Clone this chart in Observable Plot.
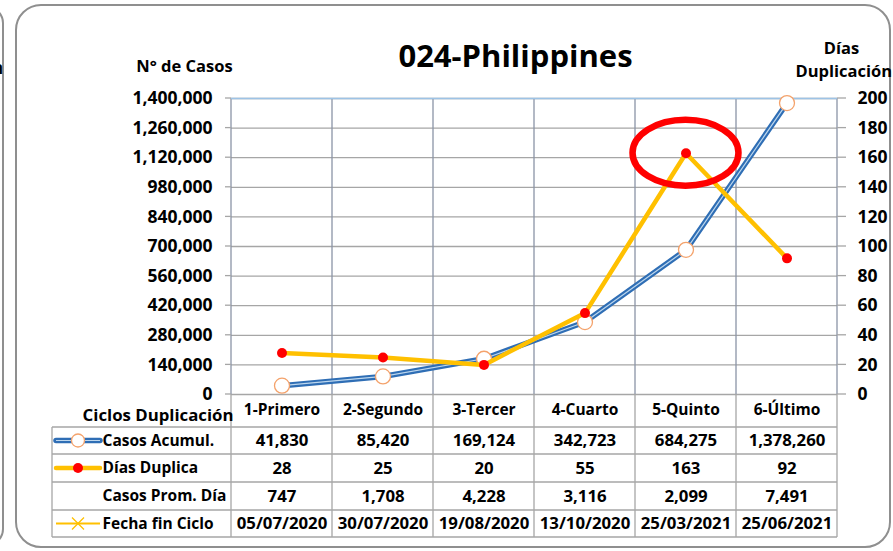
<!DOCTYPE html>
<html><head><meta charset="utf-8">
<script src="https://cdn.jsdelivr.net/npm/d3@7"></script>
<script src="https://cdn.jsdelivr.net/npm/@observablehq/plot@0.6"></script>
<style>
html,body{margin:0;padding:0;background:#fff;}
#wrap{position:relative;width:893px;height:551px;overflow:hidden;font-family:"Open Sans",sans-serif;}
#frame{position:absolute;left:15px;top:4px;width:876px;height:544px;border:2.5px solid #8f8f8f;border-radius:26px;box-sizing:border-box;}
#prev{position:absolute;left:-30px;top:6px;width:34px;height:540px;border:2.5px solid #8f8f8f;border-radius:22px;box-sizing:border-box;}
#prevtxt{position:absolute;left:-8px;top:56px;font-weight:bold;font-size:17px;}
#chart{position:absolute;left:0;top:0;}
</style></head>
<body><div id="wrap"><div id="prev"></div><div id="prevtxt">n</div><div id="frame"></div><div id="chart"></div></div>
<script>
const ciclos = ["1-Primero","2-Segundo","3-Tercer","4-Cuarto","5-Quinto","6-Último"];
const casosAcumul = [41830, 85420, 169124, 342723, 684275, 1378260];
const diasDuplica = [28, 25, 20, 55, 163, 92];
const casosPromDia = [747, 1708, 4228, 3116, 2099, 7491];
const fechaFinCiclo = ["05/07/2020","30/07/2020","19/08/2020","13/10/2020","25/03/2021","25/06/2021"];
const casosTicks = [0, 140000, 280000, 420000, 560000, 700000, 840000, 980000, 1120000, 1260000, 1400000];
const diasTicks = [0, 20, 40, 60, 80, 100, 120, 140, 160, 180, 200];
const rowLabels = ["Casos Acumul.", "Días Duplica", "Casos Prom. Día", "Fecha fin Ciclo"];
const titulo = "024-Philippines";
const destacado = "5-Quinto";

const k = casosTicks[casosTicks.length - 1] / diasTicks[diasTicks.length - 1];
const data = ciclos.map((c, i) => ({
  ciclo: c, casos: casosAcumul[i], dias: diasDuplica[i], diasY: diasDuplica[i] * k,
  prom: casosPromDia[i], fecha: fechaFinCiclo[i]
}));
const rightTicks = diasTicks.map(d => ({v: d * k, label: String(d)}));
const fmt = d3.format(",");
const FONT = "Open Sans, sans-serif";

// table layout offsets (relative to frame bottom)
const headerDy = 16;
const rowEdgesDy = [33, 60, 88, 116, 143];
const rowCenters = rowEdgesDy.slice(0, -1).map((d, i) => (d + rowEdgesDy[i + 1]) / 2);
const tableLeftOffset = 179;

function bandInfo(scales, dims) {
  const x = scales.x;
  const bw = typeof x.bandwidth === "function" ? x.bandwidth() : (x(ciclos[1]) - x(ciclos[0]));
  return {x, bw, top: dims.marginTop, bottom: dims.height - dims.marginBottom,
    left: dims.marginLeft, right: dims.width - dims.marginRight};
}

function axisTicks(index, scales, values, dims) {
  const {left, right} = bandInfo(scales, dims);
  const g = d3.create("svg:g").attr("stroke", "#a6a6a6").attr("stroke-width", 1.3);
  g.selectAll(".l").data(casosTicks).join("line").attr("class", "l")
    .attr("x1", left - 6).attr("x2", left).attr("y1", d => scales.y(d)).attr("y2", d => scales.y(d));
  g.selectAll(".r").data(rightTicks).join("line").attr("class", "r")
    .attr("x1", right).attr("x2", right + 9).attr("y1", d => scales.y(d.v)).attr("y2", d => scales.y(d.v));
  return g.node();
}

function tableGrid(index, scales, values, dims) {
  const {x, bw, top, bottom, left, right} = bandInfo(scales, dims);
  const edges = ciclos.map(c => x(c)).concat([x(ciclos[ciclos.length - 1]) + bw]);
  const rows = rowEdgesDy.map(o => bottom + o);
  const tl = left - tableLeftOffset;
  const g = d3.create("svg:g");
  g.selectAll(".v1").data(edges).join("line").attr("class", "v1")
    .attr("x1", d => d).attr("x2", d => d).attr("y1", top).attr("y2", bottom)
    .attr("stroke", "#8a94a6").attr("stroke-width", 1.3);
  g.selectAll(".v2").data(edges).join("line").attr("class", "v2")
    .attr("x1", d => d).attr("x2", d => d).attr("y1", bottom).attr("y2", rows[rows.length - 1])
    .attr("stroke", "#a6a6a6").attr("stroke-width", 1.3);
  g.append("line").attr("x1", tl).attr("x2", tl).attr("y1", rows[0]).attr("y2", rows[rows.length - 1])
    .attr("stroke", "#a6a6a6").attr("stroke-width", 1.3);
  g.selectAll(".h").data(rows).join("line").attr("class", "h")
    .attr("x1", tl).attr("x2", right).attr("y1", d => d).attr("y2", d => d)
    .attr("stroke", "#a6a6a6").attr("stroke-width", 1.3);
  // legend keys
  const kx1 = tl + 4, kx2 = tl + 48, kc = tl + 26;
  const y0 = bottom + rowCenters[0], y1 = bottom + rowCenters[1], y3 = bottom + rowCenters[3];
  g.append("line").attr("x1", kx1).attr("x2", kx2).attr("y1", y0).attr("y2", y0)
    .attr("stroke", "#2f6eb5").attr("stroke-width", 5.5).attr("stroke-linecap", "round");
  g.append("line").attr("x1", kx1).attr("x2", kx2).attr("y1", y0).attr("y2", y0)
    .attr("stroke", "#bdd7ee").attr("stroke-width", 1.2);
  g.append("circle").attr("cx", kc).attr("cy", y0).attr("r", 6.5)
    .attr("fill", "white").attr("stroke", "#f4a26b").attr("stroke-width", 1.3);
  g.append("line").attr("x1", kx1).attr("x2", kx2).attr("y1", y1).attr("y2", y1)
    .attr("stroke", "#ffc000").attr("stroke-width", 4.5).attr("stroke-linecap", "round");
  g.append("circle").attr("cx", kc).attr("cy", y1).attr("r", 5).attr("fill", "#ff0000");
  g.append("line").attr("x1", kx1).attr("x2", kx2).attr("y1", y3).attr("y2", y3)
    .attr("stroke", "#ffc000").attr("stroke-width", 2);
  g.append("path").attr("d", `M${kc - 6},${y3 - 6}L${kc + 6},${y3 + 6}M${kc - 6},${y3 + 6}L${kc + 6},${y3 - 6}`)
    .attr("stroke", "#ffc000").attr("stroke-width", 1.3);
  return g.node();
}

function ellipseMark(index, scales, values, dims) {
  const {x, bw} = bandInfo(scales, dims);
  const d = data.find(d => d.ciclo === destacado);
  return d3.create("svg:ellipse")
    .attr("cx", x(d.ciclo) + bw / 2).attr("cy", scales.y(d.diasY))
    .attr("rx", 53).attr("ry", 33)
    .attr("fill", "none").attr("stroke", "#ff0000").attr("stroke-width", 6.5).node();
}

const rowTexts = [d => fmt(d.casos), d => String(d.dias), d => fmt(d.prom), d => d.fecha];
const T = {fontWeight: "bold", lineAnchor: "middle", fill: "#000"};

const plot = Plot.plot({
  width: 893, height: 551,
  marginTop: 98, marginBottom: 157, marginLeft: 231, marginRight: 56,
  style: {fontFamily: FONT, background: "transparent", overflow: "visible", color: "#000"},
  x: {type: "band", domain: ciclos, padding: 0, axis: null},
  y: {domain: [0, casosTicks[casosTicks.length - 1]], axis: null, label: null},
  marks: [
    Plot.ruleY(casosTicks, {stroke: "#a6a6a6", strokeWidth: 1.3}),
    tableGrid,
    Plot.ruleY([casosTicks[casosTicks.length - 1]], {stroke: "#9dc3e6", strokeWidth: 1.6}),
    axisTicks,
    Plot.text(casosTicks, {...T, y: d => d, text: d => fmt(d), frameAnchor: "left", dx: -19, textAnchor: "end", fontSize: 17.5}),
    Plot.text(rightTicks, {...T, y: "v", text: "label", frameAnchor: "right", dx: 20, textAnchor: "start", fontSize: 17.5}),
    Plot.lineY(data, {x: "ciclo", y: "casos", stroke: "#2f6eb5", strokeWidth: 5.5}),
    Plot.lineY(data, {x: "ciclo", y: "casos", stroke: "#bdd7ee", strokeWidth: 1.2}),
    Plot.dot(data, {x: "ciclo", y: "casos", r: 7.5, fill: "white", stroke: "#f4a26b", strokeWidth: 1.3}),
    Plot.lineY(data, {x: "ciclo", y: "diasY", stroke: "#ffc000", strokeWidth: 4.5}),
    Plot.dot(data, {x: "ciclo", y: "diasY", r: 5, fill: "#ff0000"}),
    ellipseMark,
    // header row
    Plot.text(data, {...T, x: "ciclo", text: "ciclo", frameAnchor: "bottom", dy: headerDy, textAnchor: "middle", fontSize: 15.5}),
    Plot.text(["Ciclos Duplicación"], {...T, frameAnchor: "bottom-left", dx: 2, dy: headerDy + 5, textAnchor: "end", fontSize: 16.8}),
    ...rowTexts.map((f, i) => Plot.text(data, {...T, x: "ciclo", text: f, frameAnchor: "bottom", dy: rowCenters[i], textAnchor: "middle", fontSize: 16.8})),
    ...rowLabels.map((t, i) => Plot.text([t], {...T, frameAnchor: "bottom-left", dx: -129, dy: rowCenters[i], textAnchor: "start", fontSize: 15.5})),
    // titles
    Plot.text([titulo], {...T, frameAnchor: "top", dx: -19, dy: -41, textAnchor: "middle", fontSize: 31}),
    Plot.text(["N° de Casos"], {...T, frameAnchor: "top-left", dx: -47, dy: -32, textAnchor: "middle", fontSize: 16.5}),
    Plot.text(["Días"], {...T, frameAnchor: "top-right", dx: 4, dy: -50, textAnchor: "middle", fontSize: 16.5}),
    Plot.text(["Duplicación"], {...T, frameAnchor: "top-right", dx: -42, dy: -27, textAnchor: "start", fontSize: 16.5})
  ]
});
document.getElementById("chart").appendChild(plot);
</script>
</body></html>
